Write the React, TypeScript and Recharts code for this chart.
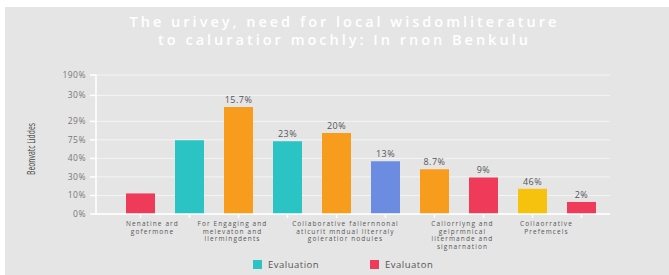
import React from "react";
import { BarChart, Bar, XAxis, YAxis, CartesianGrid, Cell, LabelList } from "recharts";

// values are in axis units (the y tick labels in the source are not linear)
const categories = ["b1", "b2", "b3", "b4", "b5", "b6", "b7", "b8", "b9", "b10"];
const values = [1.11, 3.98, 5.77, 3.92, 4.37, 2.85, 2.42, 1.97, 1.36, 0.65];
const valueLabels = ["", "", "15.7%", "23%", "20%", "13%", "8.7%", "9%", "46%", "2%"];
const barColors = ["#f03a5a", "#2bc3c3", "#f79c1c", "#2bc3c3", "#f79c1c", "#6b8ce0", "#f79c1c", "#f03a5a", "#f6c20e", "#f03a5a"];

const yTickValues = [0, 1, 2, 3, 4, 5, 6.4, 7.5];
const yTickLabels = ["0%", "10%", "30%", "40%", "75%", "29%", "30%", "190%"];

const groupLabels: (string[] | null)[] = [
  ["Nenatine ard", "gofermone"],
  null,
  ["For Engaging and", "melevaton and", "llermingdents"],
  null,
  ["Collaborative fallernnonal", "atlcurit mndual literraly", "goleratior nodules"],
  null,
  null,
  ["Callorriyng and", "gelprmnical", "litermande and", "signarnation"],
  ["Collaorrative", "Prefemcels"],
  null,
];
// horizontal shift of each group label from its bar centre
const labelShift = [12, 0, -6, 0, 9, 0, 0, -21, 14, 0];

const legendItems = [
  { name: "Evaluation", color: "#2bc3c3" },
  { name: "Evaluaton", color: "#f03a5a" },
];

const data = categories.map((c, i) => ({
  name: c,
  value: values[i],
  label: valueLabels[i],
}));

const FONT = "'Open Sans', sans-serif";

const XTick = (props: any) => {
  const { x, y, payload } = props;
  const idx = payload.index;
  const lines = groupLabels[idx];
  if (!lines) return null;
  return (
    <text x={x + labelShift[idx]} y={y + 6} textAnchor="middle" fill="#555" fontSize={6.5} fontFamily={FONT} letterSpacing={1.1}>
      {lines.map((l, k) => (
        <tspan key={k} x={x + labelShift[idx]} dy={k === 0 ? 0 : 7.5}>
          {l}
        </tspan>
      ))}
    </text>
  );
};

export default function App() {
  return (
    <div style={{ position: "fixed", left: 0, top: 0, width: 669, height: 275, background: "#fff", fontFamily: FONT, overflow: "hidden" }}>
      <div style={{ position: "absolute", left: 5, top: 7, width: 664, height: 268, background: "#e5e5e5" }} />
      <div
        style={{
          position: "absolute",
          left: 10,
          top: 13,
          width: 669,
          textAlign: "center",
          color: "#ffffff",
          fontSize: 14.5,
          fontWeight: 600,
          letterSpacing: 3,
          lineHeight: "18px",
        }}
      >
        The urivey, need for local wisdomliterature
        <br />
        to caluratior mochly: In rnon Benkulu
      </div>
      <div style={{ position: "absolute", left: 0, top: 0 }}>
        <BarChart width={669} height={275} data={data} margin={{ top: 75, right: 59, left: 0, bottom: 11 }} barCategoryGap={10}>
          <CartesianGrid vertical={false} stroke="#ffffff" strokeOpacity={0.6} />
          <XAxis
            dataKey="name"
            height={50}
            padding={{ left: 20, right: 4 }}
            axisLine={{ stroke: "#ffffff", strokeWidth: 1.5 }}
            tickLine={{ stroke: "#ffffff", strokeWidth: 1.5 }}
            tickSize={4}
            interval={0}
            tick={<XTick />}
          />
          <YAxis
            type="number"
            domain={[0, 7.5]}
            ticks={yTickValues}
            width={96}
            interval={0}
            axisLine={{ stroke: "#ffffff", strokeWidth: 1.5 }}
            tickLine={{ stroke: "#ffffff", strokeWidth: 1.5 }}
            tickSize={6}
            tickMargin={4}
            tick={{ fill: "#777", fontSize: 8.5, fontFamily: FONT, letterSpacing: 0.5 }}
            tickFormatter={(v: number) => yTickLabels[yTickValues.indexOf(v)]}
            label={{
              content: () => (
                <text
                  x={0}
                  y={0}
                  transform="translate(35,149) rotate(-90)"
                  textAnchor="middle"
                  fill="#444"
                  fontSize={11}
                  fontFamily={FONT}
                  textLength={52}
                  lengthAdjust="spacingAndGlyphs"
                >
                  Beonvatc Liddes
                </text>
              ),
            }}
          />
          <Bar dataKey="value" isAnimationActive={false}>
            {data.map((d, i) => (
              <Cell key={d.name} fill={barColors[i]} />
            ))}
            <LabelList dataKey="label" position="top" offset={4} fill="#555" fontSize={9} fontFamily={FONT} letterSpacing={0.5} />
          </Bar>
        </BarChart>
      </div>
      {legendItems.map((it, i) => (
        <div
          key={it.name}
          style={{
            position: "absolute",
            left: i === 0 ? 253 : 370,
            top: 258,
            height: 13,
            display: "flex",
            alignItems: "center",
            fontSize: 9.5,
            color: "#555",
            letterSpacing: 0.5,
          }}
        >
          <span style={{ width: 9, height: 9, background: it.color, marginRight: 6, display: "inline-block" }} />
          {it.name}
        </div>
      ))}
    </div>
  );
}
